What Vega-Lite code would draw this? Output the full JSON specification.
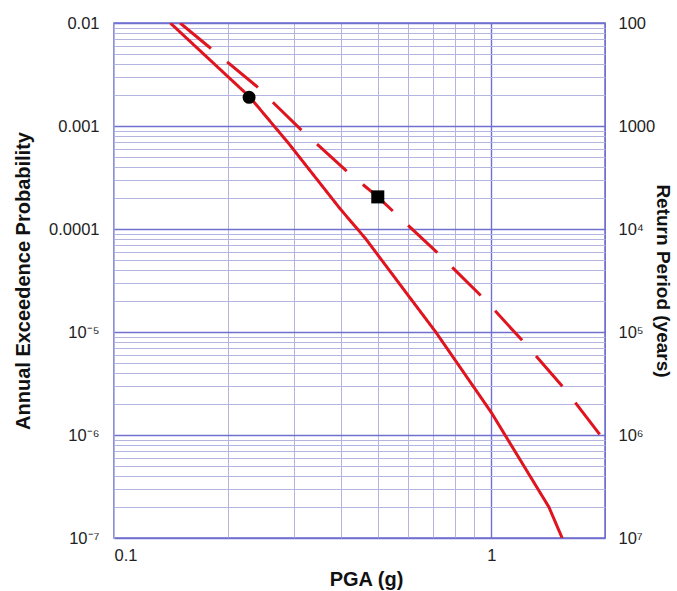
{
  "$schema": "https://vega.github.io/schema/vega-lite/v6.json",
  "width": 491,
  "height": 515,
  "autosize": {"type": "none"},
  "padding": {"left": 114, "top": 23, "right": 72, "bottom": 53},
  "background": "white",
  "config": {
    "view": {"stroke": "#6b6bcc", "strokeWidth": 1.5},
    "font": "Liberation Sans",
    "axis": {"labelFont": "Liberation Sans", "titleFont": "Liberation Sans", "labelColor": "#222", "titleColor": "#111", "labelFontSize": 16.5, "titleFontSize": 20, "titleFontWeight": "bold", "ticks": false, "domain": false, "labelOverlap": false}
  },
  "datasets": {
    "curves": [
      {"pga": 0.141, "prob": 0.01, "series": "solid"},
      {"pga": 0.2287, "prob": 0.00192, "series": "solid"},
      {"pga": 0.290, "prob": 0.00068, "series": "solid"},
      {"pga": 0.398, "prob": 0.000156, "series": "solid"},
      {"pga": 0.4637, "prob": 0.000081, "series": "solid"},
      {"pga": 0.6, "prob": 0.000023, "series": "solid"},
      {"pga": 0.712, "prob": 0.00001, "series": "solid"},
      {"pga": 1.0, "prob": 0.00000165, "series": "solid"},
      {"pga": 1.42, "prob": 0.0000002, "series": "solid"},
      {"pga": 1.54, "prob": 0.0000001, "series": "solid"},
      {"pga": 0.1497, "prob": 0.01, "series": "dashed"},
      {"pga": 0.2378, "prob": 0.00246, "series": "dashed"},
      {"pga": 0.3118, "prob": 0.000933, "series": "dashed"},
      {"pga": 0.4129, "prob": 0.000367, "series": "dashed"},
      {"pga": 0.5, "prob": 0.000205, "series": "dashed"},
      {"pga": 0.7261, "prob": 0.0000569, "series": "dashed"},
      {"pga": 0.9598, "prob": 0.0000207, "series": "dashed"},
      {"pga": 1.233, "prob": 0.0000076, "series": "dashed"},
      {"pga": 1.568, "prob": 0.00000277, "series": "dashed"},
      {"pga": 1.954, "prob": 0.00000097, "series": "dashed"}
    ],
    "markers": [
      {"pga": 0.228, "prob": 0.0019, "kind": "circle"},
      {"pga": 0.5, "prob": 0.000205, "kind": "square"}
    ]
  },
  "encoding": {
    "x": {
      "field": "pga", "type": "quantitative",
      "scale": {"type": "log", "domain": [0.1, 2], "nice": false},
      "axis": {
        "title": "PGA (g)",
        "values": [0.1, 0.2, 0.3, 0.4, 0.5, 0.6, 0.7, 0.8, 0.9, 1, 2],
        "labelExpr": "datum.value == 0.1 ? '0.1' : datum.value == 1 ? '1' : ''",
        "labelPadding": 9,
        "grid": true,
        "gridColor": {"condition": {"test": "datum.value == 1 || datum.value == 2", "value": "#7070d0"}, "value": "#b4b4e0"},
        "gridWidth": {"condition": {"test": "datum.value == 1", "value": 1.4}, "value": 1},
        "titleBaseline": "alphabetic",
        "titleY": 47,
        "titleX": 252
      }
    }
  },
  "resolve": {"scale": {"y": "shared"}, "axis": {"y": "independent"}},
  "layer": [
    {
      "data": {"name": "curves"},
      "mark": {"type": "line", "color": "#e0141e", "strokeWidth": 3, "clip": true, "strokeCap": "butt"},
      "encoding": {
        "y": {
          "field": "prob", "type": "quantitative",
          "scale": {"type": "log", "domain": [0.0000001, 0.01], "nice": false},
          "axis": {
            "orient": "left",
            "title": "Annual Exceedence Probability",
            "values": [1e-7, 2e-7, 3e-7, 4e-7, 5e-7, 6e-7, 7e-7, 8e-7, 9e-7, 1e-6, 2e-6, 3e-6, 4e-6, 5e-6, 6e-6, 7e-6, 8e-6, 9e-6, 1e-5, 2e-5, 3e-5, 4e-5, 5e-5, 6e-5, 7e-5, 8e-5, 9e-5, 1e-4, 2e-4, 3e-4, 4e-4, 5e-4, 6e-4, 7e-4, 8e-4, 9e-4, 1e-3, 2e-3, 3e-3, 4e-3, 5e-3, 6e-3, 7e-3, 8e-3, 9e-3, 1e-2],
            "labelExpr": "abs(datum.value/pow(10,round(log(datum.value)/LN10))-1) > 0.000001 ? '' : round(log(datum.value)/LN10) == -2 ? '0.01' : round(log(datum.value)/LN10) == -3 ? '0.001' : round(log(datum.value)/LN10) == -4 ? '0.0001' : round(log(datum.value)/LN10) == -5 ? '10⁻⁵' : round(log(datum.value)/LN10) == -6 ? '10⁻⁶' : '10⁻⁷'",
            "labelPadding": 15,
            "grid": true,
            "gridColor": {"condition": {"test": "abs(datum.value/pow(10,round(log(datum.value)/LN10))-1) < 0.000001", "value": "#7070d0"}, "value": "#b4b4e0"},
            "gridWidth": {"condition": {"test": "abs(datum.value/pow(10,round(log(datum.value)/LN10))-1) < 0.000001", "value": 1.4}, "value": 1},
            "titleAngle": -90,
            "titleBaseline": "middle",
            "titleX": -91
          }
        },
        "strokeDash": {
          "field": "series", "type": "nominal",
          "scale": {"domain": ["solid", "dashed"], "range": [[1, 0], [40, 21]]},
          "legend": null
        },
        "detail": {"field": "series"}
      }
    },
    {
      "data": {"name": "markers"},
      "mark": {"type": "point", "filled": true, "color": "black", "opacity": 1, "size": 170},
      "encoding": {
        "y": {
          "field": "prob", "type": "quantitative",
          "scale": {"type": "log", "domain": [0.0000001, 0.01], "nice": false},
          "axis": {
            "orient": "right",
            "title": "Return Period (years)",
            "values": [1e-7, 1e-6, 1e-5, 1e-4, 1e-3, 1e-2],
            "labelExpr": "round(log(datum.value)/LN10) == -2 ? '100' : round(log(datum.value)/LN10) == -3 ? '1000' : round(log(datum.value)/LN10) == -4 ? '10⁴' : round(log(datum.value)/LN10) == -5 ? '10⁵' : round(log(datum.value)/LN10) == -6 ? '10⁶' : '10⁷'",
            "labelPadding": 13,
            "grid": false,
            "titleAngle": 90,
            "titleBaseline": "middle",
            "titleFontSize": 19,
            "titleX": 57
          }
        },
        "shape": {
          "field": "kind", "type": "nominal",
          "scale": {"domain": ["circle", "square"], "range": ["circle", "square"]},
          "legend": null
        }
      }
    }
  ]
}
